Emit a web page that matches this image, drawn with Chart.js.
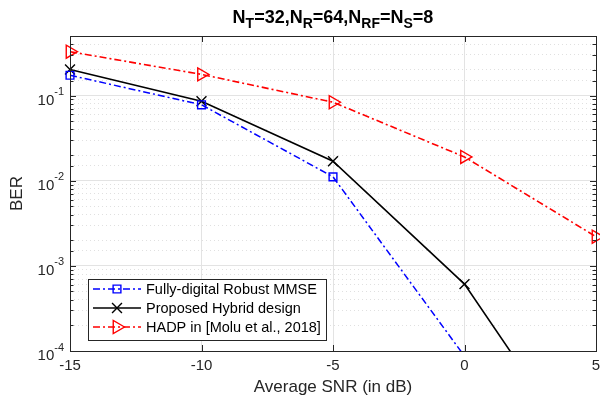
<!DOCTYPE html>
<html><head><meta charset="utf-8">
<script src="https://cdn.jsdelivr.net/npm/chart.js@4.4.0/dist/chart.umd.min.js"></script>
<style>html,body{margin:0;padding:0;background:#fff;} #wrap{width:600px;height:409px;position:relative;}</style>
</head><body><div id="wrap"><canvas id="c" width="600" height="409"></canvas></div>
<script>
// ---- data ----
const snrDb = [-15, -10, -5, 0, 5];
const berDigital = [0.173, 0.0778, 0.0111, 8.7e-5, 2e-7];
const berHybrid = [0.202, 0.0857, 0.0169, 6.1e-4, 3.3e-6];
const berHADP = [0.327, 0.177, 0.0834, 0.019, 0.0022];
const seriesNames = ['Fully-digital Robust MMSE', 'Proposed Hybrid design', 'HADP in [Molu et al., 2018]'];
const xTickValues = [-15, -10, -5, 0, 5];
const yDecades = [1e-4, 1e-3, 1e-2, 1e-1];
const yTickBase = '10';
const yTickExponents = ['-4', '-3', '-2', '-1'];
const titleParts = [['N', 0], ['T', 1], ['=32,N', 0], ['R', 1], ['=64,N', 0], ['RF', 1], ['=N', 0], ['S', 1], ['=8', 0]];
const xTitle = 'Average SNR (in dB)';
const yTitle = 'BER';

const FONT = "'Liberation Sans', Arial, Helvetica, sans-serif";
const AX = '#262626';

const toXY = (ys) => snrDb.map((x, i) => ({x: x, y: ys[i]}));

const styles = [
  {color: '#0000ff', dash: [7, 3, 2, 3], width: 1.5, point: 'rect', r: 5.5, rot: 0},
  {color: '#000000', dash: [], width: 1.6, point: 'crossRot', r: 7, rot: 0},
  {color: '#ff0000', dash: [7, 3, 2, 3], width: 1.6, point: 'triangle', r: 7.5, rot: 90}
];
const seriesData = [berDigital, berHybrid, berHADP];

const datasets = seriesData.map((d, i) => ({
  label: seriesNames[i],
  data: toXY(d),
  borderColor: styles[i].color,
  borderWidth: styles[i].width,
  borderDash: styles[i].dash,
  backgroundColor: 'rgba(0,0,0,0)',
  pointStyle: styles[i].point,
  pointRadius: styles[i].r,
  pointRotation: styles[i].rot,
  pointBorderColor: styles[i].color,
  pointBackgroundColor: 'rgba(0,0,0,0)',
  pointBorderWidth: 1.4,
  pointHoverRadius: styles[i].r,
  tension: 0,
  clip: {left: 14, right: 14, top: 14, bottom: 0}
}));

function isDecade(v) {
  const l = Math.log10(v);
  return Math.abs(l - Math.round(l)) < 1e-9;
}

const titlePlugin = {
  id: 'subTitle',
  afterDraw(chart) {
    const ctx = chart.ctx;
    const ca = chart.chartArea;
    const big = 'bold 18px ' + FONT, small = 'bold 14px ' + FONT;
    ctx.save();
    let w = 0;
    titleParts.forEach(p => { ctx.font = p[1] ? small : big; w += ctx.measureText(p[0]).width; });
    let x = (ca.left + ca.right) / 2 - w / 2;
    const base = 23;
    ctx.fillStyle = '#000';
    ctx.textBaseline = 'alphabetic';
    ctx.textAlign = 'left';
    titleParts.forEach(p => {
      ctx.font = p[1] ? small : big;
      ctx.fillText(p[0], x, p[1] ? base + 5 : base);
      x += ctx.measureText(p[0]).width;
    });
    ctx.restore();
  }
};

const yLabelPlugin = {
  id: 'yExpLabels',
  afterDraw(chart) {
    const ctx = chart.ctx;
    const ys = chart.scales.y;
    const right = chart.chartArea.left - 6;
    ctx.save();
    ctx.fillStyle = AX;
    ctx.textBaseline = 'alphabetic';
    ctx.textAlign = 'left';
    yDecades.forEach((v, i) => {
      const y = ys.getPixelForValue(v);
      ctx.font = '11px ' + FONT;
      const we = ctx.measureText(yTickExponents[i]).width;
      ctx.font = '15px ' + FONT;
      const wb = ctx.measureText(yTickBase).width;
      const x0 = right - we - wb;
      ctx.fillText(yTickBase, x0, y + 9);
      ctx.font = '11px ' + FONT;
      ctx.fillText(yTickExponents[i], x0 + wb, y - 0.5);
    });
    ctx.restore();
  }
};

const boxPlugin = {
  id: 'boxTicks',
  afterDatasetsDraw(chart) {
    const ctx = chart.ctx;
    const ca = chart.chartArea;
    const ys = chart.scales.y, xs = chart.scales.x;
    ctx.save();
    ctx.strokeStyle = AX;
    ctx.lineWidth = 1;
    ctx.beginPath();
    ys.ticks.forEach(t => {
      const y = Math.round(ys.getPixelForValue(t.value)) + 0.5;
      if (y < ca.top + 1 || y > ca.bottom - 1) return;
      const L = isDecade(t.value) ? 6 : 3.5;
      ctx.moveTo(ca.left, y); ctx.lineTo(ca.left + L, y);
      ctx.moveTo(ca.right, y); ctx.lineTo(ca.right - L, y);
    });
    xTickValues.forEach(v => {
      const x = Math.round(xs.getPixelForValue(v)) + 0.5;
      ctx.moveTo(x, ca.bottom); ctx.lineTo(x, ca.bottom - 6);
      ctx.moveTo(x, ca.top); ctx.lineTo(x, ca.top + 6);
    });
    ctx.stroke();
    ctx.strokeRect(Math.round(ca.left) + 0.5, Math.round(ca.top) + 0.5, Math.round(ca.right - ca.left), Math.round(ca.bottom - ca.top));
    ctx.restore();
  }
};

const legendPlugin = {
  id: 'boxLegend',
  afterDraw(chart) {
    const ctx = chart.ctx;
    const bx = 88.5, by = 279.5, bw = 238, bh = 61;
    const rows = [289, 308, 327];
    ctx.save();
    ctx.fillStyle = '#fff';
    ctx.fillRect(bx, by, bw, bh);
    ctx.strokeStyle = AX;
    ctx.lineWidth = 1;
    ctx.strokeRect(bx, by, bw, bh);
    rows.forEach((y, i) => {
      const s = styles[i];
      ctx.strokeStyle = s.color;
      ctx.lineWidth = s.width;
      ctx.setLineDash(s.dash);
      ctx.beginPath(); ctx.moveTo(93, y); ctx.lineTo(141, y); ctx.stroke();
      ctx.setLineDash([]);
      ctx.lineWidth = 1.4;
      const mx = 117;
      ctx.beginPath();
      if (s.point === 'rect') {
        const h = s.r * Math.SQRT1_2;
        ctx.rect(mx - h, y - h, 2 * h, 2 * h);
      } else if (s.point === 'crossRot') {
        const h = s.r * Math.SQRT1_2;
        ctx.moveTo(mx - h, y - h); ctx.lineTo(mx + h, y + h);
        ctx.moveTo(mx - h, y + h); ctx.lineTo(mx + h, y - h);
      } else {
        const r = s.r;
        ctx.moveTo(mx + r, y);
        ctx.lineTo(mx - r / 2, y - r * Math.sqrt(3) / 2);
        ctx.lineTo(mx - r / 2, y + r * Math.sqrt(3) / 2);
        ctx.closePath();
      }
      ctx.stroke();
      ctx.fillStyle = '#000';
      ctx.font = '14.5px ' + FONT;
      ctx.textAlign = 'left';
      ctx.textBaseline = 'middle';
      ctx.fillText(seriesNames[i], 146, y + 0.5);
    });
    ctx.restore();
  }
};

new Chart(document.getElementById('c'), {
  type: 'line',
  data: {datasets: datasets},
  plugins: [titlePlugin, boxPlugin, yLabelPlugin, legendPlugin],
  options: {
    responsive: false,
    animation: false,
    events: [],
    layout: {autoPadding: false, padding: {top: 36, right: 4, left: 0, bottom: 0}},
    plugins: {legend: {display: false}, title: {display: false}, tooltip: {enabled: false}},
    scales: {
      x: {
        type: 'linear', min: -15, max: 5,
        afterFit: (s) => { s.height = 58; s.paddingLeft = 0; s.paddingRight = 0; },
        afterBuildTicks: (s) => { s.ticks = xTickValues.map(v => ({value: v})); },
        ticks: {color: AX, font: {family: FONT, size: 15}, padding: 6, maxRotation: 0,
          callback: (v) => String(v)},
        grid: {color: '#e3e3e3', lineWidth: 1, drawTicks: false},
        border: {display: false},
        title: {display: true, text: xTitle, color: AX, font: {family: FONT, size: 17}, padding: {top: 0, bottom: 11}}
      },
      y: {
        type: 'logarithmic', min: 1e-4, max: 0.5,
        afterFit: (s) => { s.width = 70; s.paddingTop = 0; s.paddingBottom = 0; },
        ticks: {display: false, autoSkip: false},
        grid: {drawTicks: false, lineWidth: 1,
          color: (c) => (c.tick && isDecade(c.tick.value)) ? '#e3e3e3' : '#e0e0e0'},
        border: {display: false, dash: (c) => (c.tick && isDecade(c.tick.value)) ? [] : [1, 3]},
        title: {display: true, text: yTitle, color: AX, font: {family: FONT, size: 17}, padding: {top: 7, bottom: 0}}
      }
    }
  }
});
</script>
</body></html>
